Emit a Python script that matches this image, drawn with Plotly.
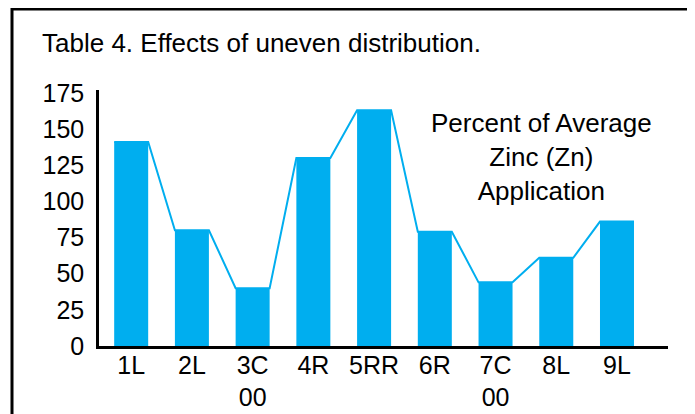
import plotly.graph_objects as go

categories = ["1L", "2L", "3C<br>00", "4R", "5RR", "6R", "7C<br>00", "8L", "9L"]
values = [141, 80, 40, 130, 163, 79, 44, 61, 86]
y_ticks = [0, 25, 50, 75, 100, 125, 150, 175]
title_text = "Table 4. Effects of uneven distribution."
note_text = "Percent of Average<br>Zinc (Zn)<br>Application"

CYAN = "#00AEEF"
FONT = "Liberation Sans, Arial, Helvetica, sans-serif"
BAR_W = 0.56

xs = list(range(len(categories)))
line_x, line_y = [], []
for i, v in zip(xs, values):
    line_x += [i - BAR_W / 2, i + BAR_W / 2]
    line_y += [v, v]

fig = go.Figure()
fig.add_trace(go.Bar(x=xs, y=values, width=BAR_W, marker=dict(color=CYAN, line=dict(width=0)),
                     hoverinfo="y"))
fig.add_trace(go.Scatter(x=line_x, y=line_y, mode="lines", line=dict(color=CYAN, width=2),
                         hoverinfo="skip"))

OFF = 8  # page body margin
W, H = 695 - OFF, 414 - OFF
L, R, T, B = 99 - OFF, 27, 90 - OFF, 68
pw, ph = W - L - R, H - T - B

def px_x(p):
    return (p - OFF - L) / pw

def px_y(p):
    return (H - B - (p - OFF)) / ph

fig.update_layout(
    width=W, height=H,
    margin=dict(l=L, r=R, t=T, b=B, pad=0, autoexpand=False),
    paper_bgcolor="white", plot_bgcolor="white",
    showlegend=False,
    font=dict(family=FONT, size=25, color="black"),
    xaxis=dict(range=[-0.53, 8.84], tickvals=xs, ticktext=categories, showgrid=False,
               zeroline=False, showline=True, linecolor="black", linewidth=2.5, ticks="",
               ticklabelstandoff=-5, tickfont=dict(size=25), fixedrange=True, automargin=False),
    yaxis=dict(range=[0, 177], tickvals=y_ticks, showgrid=False, zeroline=False,
               showline=True, linecolor="black", linewidth=2.5, ticks="",
               ticklabelstandoff=7, tickfont=dict(size=25), fixedrange=True, automargin=False),
    shapes=[dict(type="rect", xref="paper", yref="paper",
                 x0=px_x(12), x1=px_x(693), y0=px_y(440), y1=px_y(9),
                 line=dict(color="black", width=3), fillcolor="rgba(0,0,0,0)", layer="above")],
    annotations=[
        dict(text=title_text, xref="paper", yref="paper", x=px_x(40), y=px_y(43),
             xanchor="left", yanchor="middle", showarrow=False, font=dict(size=26)),
        dict(text=note_text, xref="x", yref="y", x=6.75, y=130.5, xanchor="center",
             yanchor="middle", showarrow=False, font=dict(size=26)),
    ],
)

fig.write_html("out.html")
